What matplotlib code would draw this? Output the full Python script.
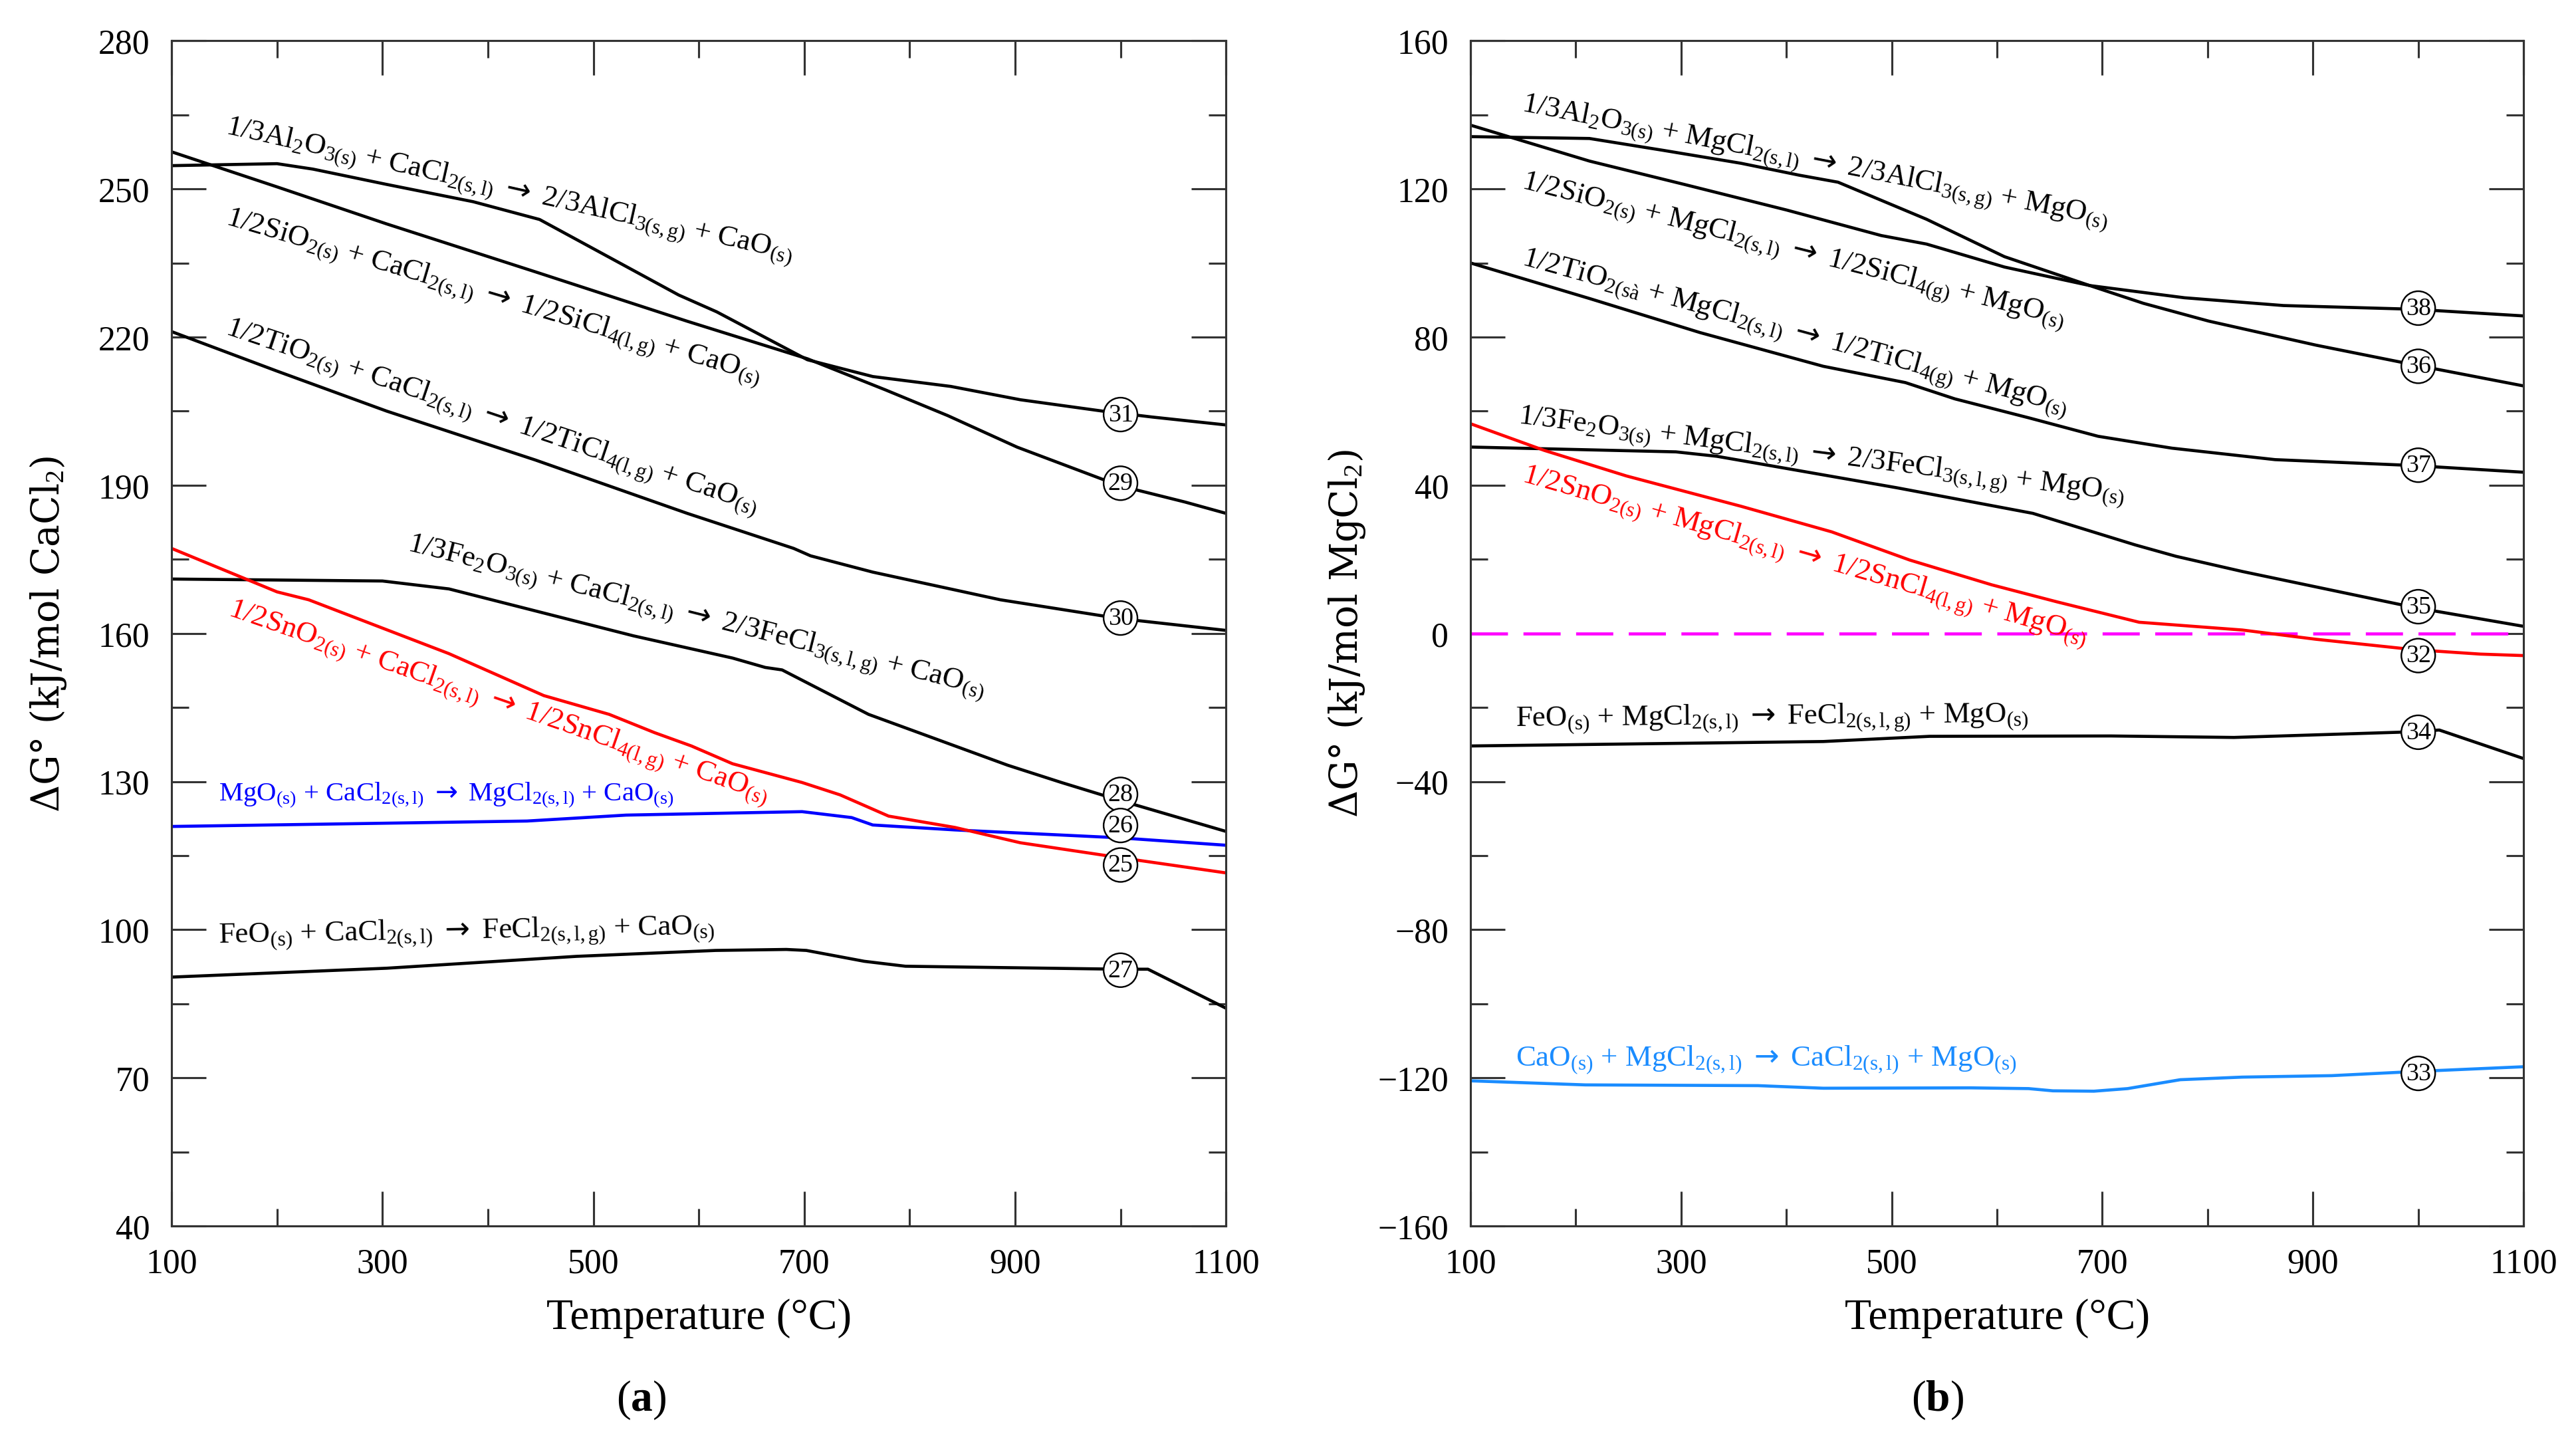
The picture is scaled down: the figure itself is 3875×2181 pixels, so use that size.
import math
import matplotlib
matplotlib.use("Agg")
import matplotlib.pyplot as plt

plt.rcParams['font.family'] = ['Liberation Serif', 'DejaVu Serif']
plt.rcParams['mathtext.fontset'] = 'custom'
plt.rcParams['mathtext.rm'] = 'Liberation Serif'
plt.rcParams['mathtext.it'] = 'Liberation Serif:italic'
plt.rcParams['mathtext.bf'] = 'Liberation Serif:bold'
plt.rcParams['mathtext.sf'] = 'DejaVu Sans'

# ---- панель (a): реакции с CaCl2 ----
al_T_a = [100, 200, 234, 304, 386, 449, 581, 617, 703, 765, 839, 905, 983, 1030, 1100]
al_G_a = [254.7, 255.1, 254.0, 250.9, 247.4, 243.8, 228.5, 225.1, 215.4, 212.0, 210.0, 207.3, 205.0, 203.8, 202.2]
si_T_a = [100, 200, 304, 445, 589, 703, 777, 836, 902, 999, 1061, 1100]
si_G_a = [257.5, 250.4, 242.9, 233.2, 223.2, 215.6, 209.3, 204.1, 197.7, 189.9, 186.6, 184.3]
ti_T_a = [100, 200, 304, 445, 589, 690, 706, 765, 886, 999, 1100]
ti_G_a = [221.1, 213.1, 205.0, 195.1, 184.3, 177.2, 175.7, 172.4, 166.8, 163.0, 160.6]
fe2_T_a = [100, 300, 363, 538, 632, 663, 679, 761, 893, 944, 999, 1100]
fe2_G_a = [171.0, 170.6, 169.0, 159.5, 155.0, 153.1, 152.6, 143.6, 133.3, 129.8, 126.2, 119.9]
sn_T_a = [100, 200, 230, 363, 453, 515, 558, 593, 632, 698, 734, 780, 843, 905, 999, 1100]
sn_G_a = [177.2, 168.4, 166.8, 155.9, 147.4, 143.6, 139.9, 137.2, 133.6, 129.8, 127.3, 123.0, 120.7, 117.6, 114.6, 111.5]
mgo_T_a = [100, 437, 531, 698, 745, 765, 843, 999, 1100]
mgo_G_a = [120.9, 122.0, 123.2, 123.9, 122.7, 121.2, 120.2, 118.6, 117.1]
feo_T_a = [100, 304, 484, 616, 683, 702, 757, 796, 999, 1026, 1100]
feo_G_a = [90.4, 92.2, 94.6, 95.8, 96.0, 95.8, 93.6, 92.6, 92.0, 92.0, 84.1]

# ---- панель (b): реакции с MgCl2 ----
al_T_b = [100, 213, 283, 357, 412, 449, 533, 607, 688, 778, 872, 996, 1100]
al_G_b = [134.1, 133.6, 130.4, 126.9, 123.7, 121.8, 111.8, 101.7, 93.9, 90.6, 88.5, 87.5, 85.7]
si_T_b = [100, 213, 303, 400, 490, 533, 607, 688, 739, 801, 903, 996, 1100]
si_G_b = [137.2, 127.5, 121.2, 114.3, 107.4, 105.1, 98.9, 93.9, 89.1, 84.3, 77.8, 72.5, 66.8]
ti_T_b = [100, 213, 318, 435, 513, 560, 630, 696, 766, 864, 996, 1100]
ti_G_b = [100.0, 90.4, 81.2, 72.1, 67.7, 63.3, 58.2, 53.2, 50.0, 46.9, 45.3, 43.5]
fe2_T_b = [100, 295, 334, 505, 634, 731, 770, 833, 996, 1100]
fe2_G_b = [50.3, 49.0, 47.8, 39.3, 32.4, 23.9, 20.8, 16.7, 7.0, 1.9]
sn_T_b = [100, 170, 248, 357, 443, 517, 595, 657, 735, 833, 903, 996, 1059, 1100]
sn_G_b = [56.6, 49.4, 42.5, 34.3, 27.4, 19.8, 13.1, 8.5, 3.0, 0.9, -1.6, -4.4, -5.6, -6.0]
feo_T_b = [100, 295, 435, 536, 708, 825, 981, 1020, 1100]
feo_G_b = [-30.4, -29.7, -29.2, -27.8, -27.7, -28.1, -26.7, -26.1, -33.8]
cao_T_b = [100, 209, 373, 435, 575, 630, 653, 692, 724, 774, 833, 918, 996, 1100]
cao_G_b = [-120.8, -121.9, -122.1, -122.8, -122.7, -122.9, -123.5, -123.6, -122.9, -120.5, -119.8, -119.4, -118.3, -117.0]

# деления осей
x_major = [100, 300, 500, 700, 900, 1100]
x_minor = [200, 400, 600, 800, 1000]
y_major_a = [40, 70, 100, 130, 160, 190, 220, 250, 280]
y_minor_a = [55, 85, 115, 145, 175, 205, 235, 265]
y_major_b = [-160, -120, -80, -40, 0, 40, 80, 120, 160]
y_minor_b = [-140, -100, -60, -20, 20, 60, 100, 140]

# номера реакций и их положение по оси ординат (при 1000 °C)
num_a = ['31', '29', '30', '28', '26', '25', '27']
num_y_a = [204.3, 190.4, 163.1, 127.4, 121.1, 113.1, 91.8]
num_b = ['38', '36', '37', '35', '32', '34', '33']
num_y_b = [87.8, 72.1, 45.4, 7.2, -6.0, -26.7, -118.8]


def s(x):
    return r'$_{\mathrm{' + x + '}}$'


ARW = r' $\mathsf{\rightarrow}$ '
lab_al_a = '1/3Al' + s('2') + 'O' + s('3(s)') + ' + CaCl' + s('2(s,l)') + ARW + '2/3AlCl' + s('3(s,g)') + ' + CaO' + s('(s)')
lab_si_a = '1/2SiO' + s('2(s)') + ' + CaCl' + s('2(s,l)') + ARW + '1/2SiCl' + s('4(l,g)') + ' + CaO' + s('(s)')
lab_ti_a = '1/2TiO' + s('2(s)') + ' + CaCl' + s('2(s,l)') + ARW + '1/2TiCl' + s('4(l,g)') + ' + CaO' + s('(s)')
lab_fe2_a = '1/3Fe' + s('2') + 'O' + s('3(s)') + ' + CaCl' + s('2(s,l)') + ARW + '2/3FeCl' + s('3(s,l,g)') + ' + CaO' + s('(s)')
lab_sn_a = '1/2SnO' + s('2(s)') + ' + CaCl' + s('2(s,l)') + ARW + '1/2SnCl' + s('4(l,g)') + ' + CaO' + s('(s)')
lab_mgo_a = 'MgO' + s('(s)') + ' + CaCl' + s('2(s,l)') + ARW + 'MgCl' + s('2(s,l)') + ' + CaO' + s('(s)')
lab_feo_a = 'FeO' + s('(s)') + ' + CaCl' + s('2(s,l)') + ARW + 'FeCl' + s('2(s,l,g)') + ' + CaO' + s('(s)')

lab_al_b = '1/3Al' + s('2') + 'O' + s('3(s)') + ' + MgCl' + s('2(s,l)') + ARW + '2/3AlCl' + s('3(s,g)') + ' + MgO' + s('(s)')
lab_si_b = '1/2SiO' + s('2(s)') + ' + MgCl' + s('2(s,l)') + ARW + '1/2SiCl' + s('4(g)') + ' + MgO' + s('(s)')
lab_ti_b = '1/2TiO' + s('2(sà') + ' + MgCl' + s('2(s,l)') + ARW + '1/2TiCl' + s('4(g)') + ' + MgO' + s('(s)')
lab_fe2_b = '1/3Fe' + s('2') + 'O' + s('3(s)') + ' + MgCl' + s('2(s,l)') + ARW + '2/3FeCl' + s('3(s,l,g)') + ' + MgO' + s('(s)')
lab_sn_b = '1/2SnO' + s('2(s)') + ' + MgCl' + s('2(s,l)') + ARW + '1/2SnCl' + s('4(l,g)') + ' + MgO' + s('(s)')
lab_feo_b = 'FeO' + s('(s)') + ' + MgCl' + s('2(s,l)') + ARW + 'FeCl' + s('2(s,l,g)') + ' + MgO' + s('(s)')
lab_cao_b = 'CaO' + s('(s)') + ' + MgCl' + s('2(s,l)') + ARW + 'CaCl' + s('2(s,l)') + ' + MgO' + s('(s)')

RED = '#ff0000'
BLUE = '#0000ff'
LBLUE = '#1a8cff'
LW = 1.35
AXC = '#333333'

fig = plt.figure(figsize=(15.6, 8.782), dpi=248.46)
ax1 = fig.add_axes([0.0666, 0.1544, 0.4092, 0.8171])
ax2 = fig.add_axes([0.5707, 0.1544, 0.4087, 0.8171])


def style(ax, ylim, ymaj, ymin, ylab):
    ax.set_xlim(100, 1100)
    ax.set_ylim(*ylim)
    ax.set_xticks(x_major)
    ax.set_xticks(x_minor, minor=True)
    ax.set_yticks(ymaj)
    ax.set_yticks(ymin, minor=True)
    ax.tick_params(which='both', direction='in', top=True, right=True, width=0.9,
                   color=AXC, labelsize=15, pad=9.5)
    ax.tick_params(which='major', length=15)
    ax.tick_params(which='minor', length=7.5)
    for sp in ax.spines.values():
        sp.set_linewidth(0.9)
        sp.set_color(AXC)
    ax.set_xlabel('Temperature (°C)', fontsize=19, labelpad=8)
    ax.set_ylabel(ylab, fontsize=16.5, family=['DejaVu Serif'])
    ax.yaxis.set_label_coords(-0.098, 0.5)


def label(ax, x0, y0, x1, y1, txt, color='black', size=13):
    p0 = ax.transData.transform((x0, y0))
    p1 = ax.transData.transform((x1, y1))
    ang = math.degrees(math.atan2(p1[1] - p0[1], p1[0] - p0[0]))
    ax.text(x0, y0, txt, rotation=ang, rotation_mode='anchor', ha='left',
            va='baseline', fontsize=size, color=color)


def circles(ax, names, ys):
    for n, y in zip(names, ys):
        ax.text(1000, y, n, ha='center', va='center', fontsize=11, zorder=5,
                bbox=dict(boxstyle='circle,pad=0.17', fc='white', ec='black', lw=0.7))


style(ax1, (40, 280), y_major_a, y_minor_a, 'ΔG° (kJ/mol CaCl$_2$)')
style(ax2, (-160, 160), y_major_b, y_minor_b, 'ΔG° (kJ/mol MgCl$_2$)')

ax1.plot(al_T_a, al_G_a, color='black', lw=LW)
ax1.plot(si_T_a, si_G_a, color='black', lw=LW)
ax1.plot(ti_T_a, ti_G_a, color='black', lw=LW)
ax1.plot(fe2_T_a, fe2_G_a, color='black', lw=LW)
ax1.plot(feo_T_a, feo_G_a, color='black', lw=LW)
ax1.plot(mgo_T_a, mgo_G_a, color=BLUE, lw=LW)
ax1.plot(sn_T_a, sn_G_a, color=RED, lw=LW)
circles(ax1, num_a, num_y_a)

label(ax1, 150.4, 261.4, 665.6, 236.8, lab_al_a)
label(ax1, 150.4, 243.1, 631, 212.7, lab_si_a)
label(ax1, 150.4, 220.8, 631, 186.3, lab_ti_a)
label(ax1, 322.6, 177.0, 847.8, 148.8, lab_fe2_a)
label(ax1, 152.6, 163.9, 620.5, 129.3, lab_sn_a, RED)
label(ax1, 144.8, 126.3, 700, 126.3, lab_mgo_a, BLUE, 11.8)
label(ax1, 144.8, 97.5, 700, 99.6, lab_feo_a)

ax2.axhline(0, color='#ff00ff', lw=LW, dashes=(12, 5))
ax2.plot(al_T_b, al_G_b, color='black', lw=LW)
ax2.plot(si_T_b, si_G_b, color='black', lw=LW)
ax2.plot(ti_T_b, ti_G_b, color='black', lw=LW)
ax2.plot(fe2_T_b, fe2_G_b, color='black', lw=LW)
ax2.plot(feo_T_b, feo_G_b, color='black', lw=LW)
ax2.plot(cao_T_b, cao_G_b, color=LBLUE, lw=LW)
ax2.plot(sn_T_b, sn_G_b, color=RED, lw=LW)
circles(ax2, num_b, num_y_b)

label(ax2, 148, 141.3, 680, 111.7, lab_al_b)
label(ax2, 148, 120.5, 653, 84.1, lab_si_b)
label(ax2, 148, 99.8, 657, 60.2, lab_ti_b)
label(ax2, 145, 57.0, 680, 37.5, lab_fe2_b)
label(ax2, 148, 41.3, 618, 2.9, lab_sn_b, RED)
label(ax2, 142.6, -24.9, 700, -23.6, lab_feo_b)
label(ax2, 142.6, -116.6, 700, -116.6, lab_cao_b, LBLUE)

fig.text(0.249, 0.035, r'($\mathbf{a}$)', ha='center', va='center', fontsize=19)
fig.text(0.752, 0.035, r'($\mathbf{b}$)', ha='center', va='center', fontsize=19)

fig.savefig('out.png', dpi=248.46)
